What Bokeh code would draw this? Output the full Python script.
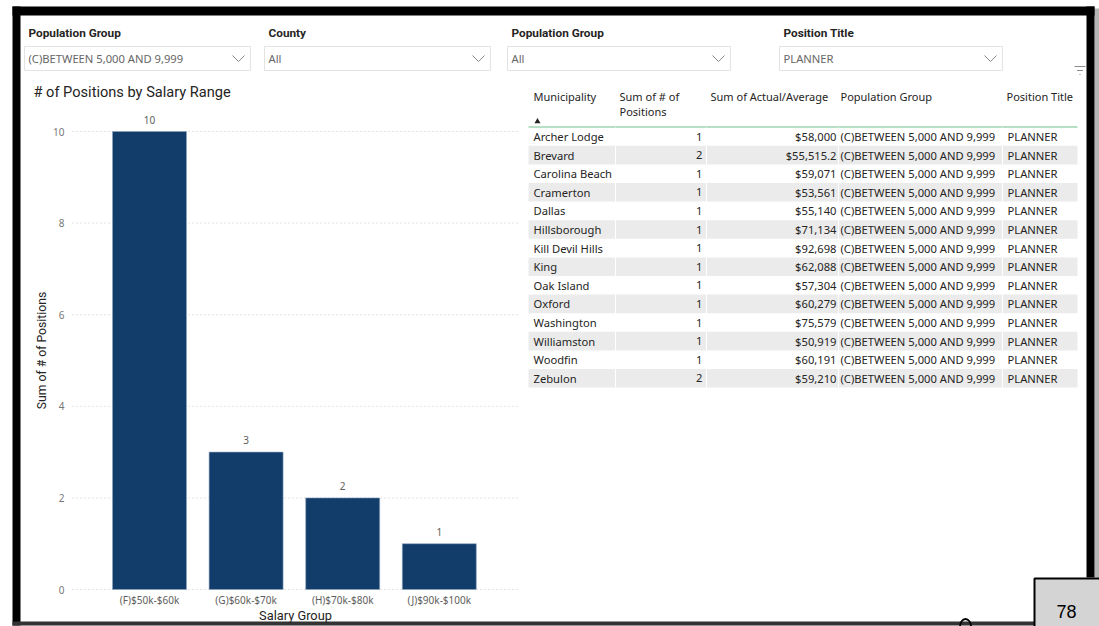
import math
from bokeh.plotting import figure
from bokeh.models import Range1d, ColumnDataSource
from bokeh.embed import file_html
from bokeh.resources import INLINE
from bokeh.core.properties import value

# ---------------- data ----------------
salary_groups = ["(F)$50k-$60k", "(G)$60k-$70k", "(H)$70k-$80k", "(J)$90k-$100k"]
group_counts = [10, 3, 2, 1]
y_ticks = [0, 2, 4, 6, 8, 10]

municipalities = ["Archer Lodge", "Brevard", "Carolina Beach", "Cramerton", "Dallas",
                  "Hillsborough", "Kill Devil Hills", "King", "Oak Island", "Oxford",
                  "Washington", "Williamston", "Woodfin", "Zebulon"]
num_positions = [1, 2, 1, 1, 1, 1, 1, 1, 1, 1, 1, 1, 1, 2]
actual_average = [58000, 55515.2, 59071, 53561, 55140, 71134, 92698, 62088,
                  57304, 60279, 75579, 50919, 60191, 59210]
population_groups = ["(C)BETWEEN 5,000 AND 9,999"] * 14
position_titles = ["PLANNER"] * 14

slicer_titles = ["Population Group", "County", "Population Group", "Position Title"]
slicer_values = ["(C)BETWEEN 5,000 AND 9,999", "All", "All", "PLANNER"]
table_headers = ["Municipality", "Sum of # of\nPositions", "Sum of Actual/Average",
                 "Population Group", "Position Title"]

chart_title = "# of Positions by Salary Range"
x_title = "Salary Group"
y_title = "Sum of # of Positions"
page_number = "78"

# ---------------- canvas ----------------
W, H = 1099, 626
p = figure(width=W, height=H, x_range=Range1d(0, W), y_range=Range1d(H, 0),
           output_backend="svg", toolbar_location=None, min_border=0,
           x_axis_location=None, y_axis_location=None)
p.grid.grid_line_color = None
p.outline_line_color = None
p.background_fill_color = "white"
p.border_fill_color = "white"

UI = value("Noto Sans")
TITLE = value("Roboto")
TXT = "#252423"
GRAY = "#605e5c"
UI_SIZE = "11.2px"

# bar-chart scales (sub-region of the canvas)
px_per_cat = 96.6
c0 = 149.0
def xv(px):
    return 0.5 + (px - c0) / px_per_cat
p.extra_x_ranges = {"bx": Range1d(xv(0), xv(W))}
y0_px, y10_px = 589.0, 131.0
upx = (y0_px - y10_px) / 10.0
p.extra_y_ranges = {"by": Range1d(-(H - y0_px) / upx, y0_px / upx)}

# ---------------- page frame ----------------
p.quad(left=[1094], right=[W], top=[8], bottom=[577], fill_color="#b5b5b5", line_color=None)
p.quad(left=[12, 12, 1086], right=[1094, 20, 1094], top=[6, 6, 6], bottom=[15, 625, 577],
       fill_color="black", line_color=None)
p.quad(left=[12], right=[1034], top=[621], bottom=[625], fill_color="#333333", line_color=None)

# ---------------- slicers ----------------
box_l = [24, 264, 507, 779]
box_r = [250, 490, 730, 1002]
p.text(x=[l + 4 for l in box_l], y=[32] * 4, text=slicer_titles, text_font=TITLE,
       text_font_style="bold", text_font_size="11.8px", text_color=TXT,
       text_baseline="middle", text_align="left")
p.quad(left=box_l, right=box_r, top=[46] * 4, bottom=[70] * 4, fill_color="white",
       line_color="#e3e3e3", line_width=1)
p.text(x=[l + 4 for l in box_l], y=[58] * 4, text=slicer_values, text_font=UI,
       text_font_size=UI_SIZE, text_color="#666666", text_baseline="middle")
cx = [r - 12 for r in box_r]
p.multi_line(xs=[[c - 6, c, c + 6] for c in cx], ys=[[55, 61, 55]] * 4,
             line_color="#8a8a8a", line_width=1)
# filter icon
p.segment(x0=[1074, 1076.5, 1079], x1=[1085, 1082.5, 1080], y0=[66, 70, 74], y1=[66, 70, 74],
          line_color="#8a8a8a", line_width=1)

# ---------------- bar chart ----------------
p.text(x=[33], y=[91], text=[chart_title], text_font=TITLE, text_font_size="14.6px",
       text_color=TXT, text_baseline="middle")
p.segment(x0=[72] * len(y_ticks), x1=[518] * len(y_ticks), y0=y_ticks, y1=y_ticks,
          y_range_name="by", line_color="#c8c8c8", line_dash="1 3", line_width=1)
xpos = [i + 0.5 for i in range(len(salary_groups))]
src = ColumnDataSource(dict(x=xpos, top=group_counts, lab=[str(c) for c in group_counts],
                            cat=salary_groups))
p.vbar(x="x", top="top", bottom=0, width=74 / px_per_cat, source=src,
       x_range_name="bx", y_range_name="by", fill_color="#123d6b",
       line_color="#8ea6c0", line_width=0.6)
p.text(x="x", y="top", text="lab", source=src, x_range_name="bx", y_range_name="by",
       y_offset=-12, text_align="center", text_baseline="middle", text_font=UI,
       text_font_size="10px", text_color=GRAY)
p.text(x=[64] * len(y_ticks), y=y_ticks, text=[str(t) for t in y_ticks],
       y_range_name="by", text_align="right", text_baseline="middle", text_font=UI,
       text_font_size="10px", text_color="#777777")
p.text(x="x", y=599, text="cat", source=src, x_range_name="bx",
       text_align="center", text_baseline="middle", text_font=UI,
       text_font_size="10px", text_color=GRAY)
p.text(x=[295], y=[615], text=[x_title], text_font=TITLE, text_font_size="12.8px",
       text_color=TXT, text_align="center", text_baseline="middle")
p.text(x=[41], y=[350], text=[y_title], angle=math.pi / 2, text_font=TITLE,
       text_font_size="12.2px", text_color=TXT, text_align="center",
       text_baseline="middle")

# ---------------- table ----------------
hx = [533, 619, 710, 840, 1006]
first_lines = [h.split("\n")[0] for h in table_headers]
second_lines = [h.split("\n")[1] if "\n" in h else "" for h in table_headers]
p.text(x=hx, y=[96] * 5, text=first_lines, text_font=UI, text_font_size="11px",
       text_color=TXT, text_baseline="middle")
p.text(x=hx, y=[111] * 5, text=second_lines, text_font=UI, text_font_size="11px",
       text_color=TXT, text_baseline="middle")
p.scatter(x=[537], y=[121], marker="triangle", size=6, fill_color=TXT, line_color=None)
p.segment(x0=[528], x1=[1077], y0=[126.5], y1=[126.5], line_color="#9fd4b2", line_width=1.5)

row_h = 18.6
r0 = 136.0
n = len(municipalities)
yc = [r0 + i * row_h for i in range(n)]
shade = [i for i in range(n) if i % 2 == 1]
p.quad(left=[528] * len(shade), right=[1077] * len(shade),
       top=[yc[i] - row_h / 2 for i in shade], bottom=[yc[i] + row_h / 2 for i in shade],
       fill_color="#ebebeb", line_color=None)
p.segment(x0=[615, 706, 838, 1002], x1=[615, 706, 838, 1002], y0=[127] * 4,
          y1=[yc[-1] + row_h / 2] * 4, line_color="white", line_width=1)

def fmt_money(v):
    if float(v).is_integer():
        return "${:,.0f}".format(v)
    return "${:,.1f}".format(v)

tsrc = ColumnDataSource(dict(y=yc, muni=municipalities, npos=[str(v) for v in num_positions],
                             act=[fmt_money(v) for v in actual_average],
                             pg=population_groups, pt=position_titles))
common = dict(source=tsrc, text_font=UI, text_font_size=UI_SIZE, text_color=TXT,
              text_baseline="middle")
p.text(x=533, y="y", text="muni", text_align="left", **common)
p.text(x=702, y="y", text="npos", text_align="right", **common)
p.text(x=836, y="y", text="act", text_align="right", **common)
p.text(x=840, y="y", text="pg", text_align="left", **common)
p.text(x=1007, y="y", text="pt", text_align="left", **common)

# ---------------- page number box ----------------
# top of a large glyph peeking in from below the page edge
p.ellipse(x=[965], y=[626], width=11, height=15, fill_color=None,
          line_color="black", line_width=1.8)
p.quad(left=[1034], right=[1102], top=[578], bottom=[630], fill_color="#d4d4d4",
       line_color="black", line_width=2)
p.text(x=[1066], y=[611], text=[page_number], text_font=value("Liberation Sans"),
       text_font_size="18px", text_color="black", text_align="center",
       text_baseline="middle")

open("out.html", "w").write(file_html(p, INLINE))
